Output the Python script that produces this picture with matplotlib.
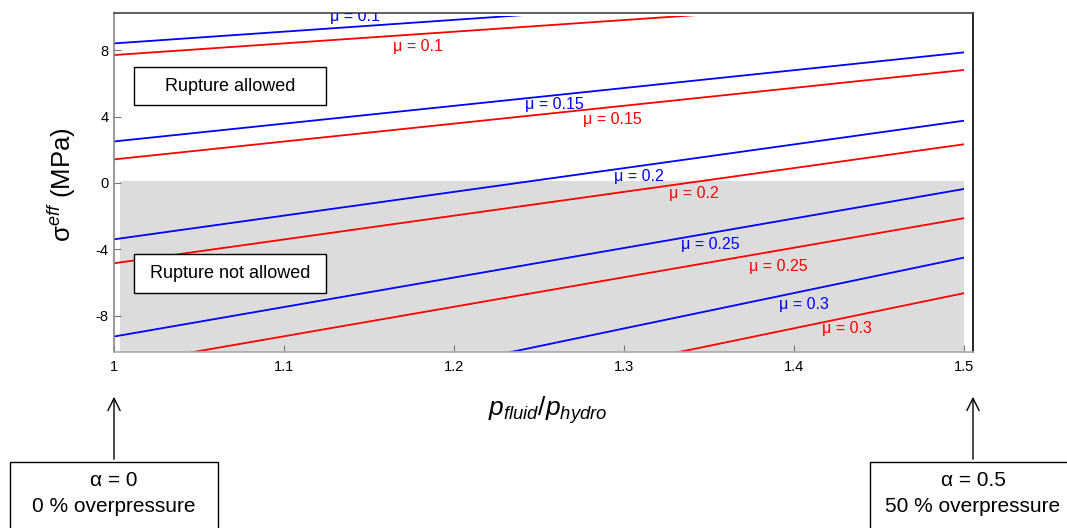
import matplotlib
matplotlib.use("Agg")
from matplotlib import pyplot as plt
from matplotlib.patches import Rectangle, FancyArrowPatch
import numpy as np

plt.rcParams['font.family'] = ['Liberation Sans', 'DejaVu Sans']
plt.rcParams['mathtext.fontset'] = 'custom'
plt.rcParams['mathtext.rm'] = 'Liberation Sans'
plt.rcParams['mathtext.it'] = 'Liberation Sans:italic'

# friction coefficients, one blue and one red line each
mu_values = [0.1, 0.15, 0.2, 0.25, 0.3]
p_ratio = [1.0, 1.5]
sigma_blue_start = [8.4, 2.5, -3.39, -9.24, -15.15]
sigma_blue_end = [11.94, 7.86, 3.75, -0.36, -4.49]
sigma_red_start = [7.7, 1.42, -4.83, -11.0, -17.2]
sigma_red_end = [11.21, 6.8, 2.33, -2.12, -6.63]

# where the mu labels sit
blue_label_x = [1.142, 1.259, 1.309, 1.351, 1.406]
blue_label_y = [10.0, 4.75, 0.42, -3.73, -7.34]
red_label_x = [1.179, 1.293, 1.341, 1.391, 1.431]
red_label_y = [8.24, 3.85, -0.62, -5.05, -8.78]

x_ticks = [1, 1.1, 1.2, 1.3, 1.4, 1.5]
x_tick_labels = ['1', '1.1', '1.2', '1.3', '1.4', '1.5']
y_ticks = [-8, -4, 0, 4, 8]
y_tick_labels = ['-8', '-4', '0', '4', '8']

W, H = 1067, 528
fig = plt.figure(figsize=(W / 100, H / 100), dpi=100)
ax = fig.add_axes([114 / W, 1 - 351.5 / H, (973 - 114) / W, (351.5 - 13) / H])
ax.set_xlim(1, 1.5053)
ax.set_ylim(-10.14, 10.23)

# shaded "not allowed" zone
ax.add_patch(Rectangle((1.0035, -10.14), 1.5 - 1.0035, 10.24, facecolor='#dcdcdc',
                       edgecolor='none', zorder=0))

clip = Rectangle((1.0, -10.14), 0.5, 20.2, transform=ax.transData)

for i, mu in enumerate(mu_values):
    lb, = ax.plot(p_ratio, [sigma_blue_start[i], sigma_blue_end[i]], color='#0000ff', lw=1.3)
    lr, = ax.plot(p_ratio, [sigma_red_start[i], sigma_red_end[i]], color='#ff0000', lw=1.3)
    lb.set_clip_path(clip)
    lr.set_clip_path(clip)
    ax.text(blue_label_x[i], blue_label_y[i], '\u03bc = %g' % mu, color='#0000ff',
            fontsize=11.5, ha='center', va='center', clip_on=True)
    ax.text(red_label_x[i], red_label_y[i], '\u03bc = %g' % mu, color='#ff0000',
            fontsize=11.5, ha='center', va='center', clip_on=True)

ax.set_xticks(x_ticks)
ax.set_xticklabels(x_tick_labels)
ax.set_yticks(y_ticks)
ax.set_yticklabels(y_tick_labels)
ax.tick_params(direction='in', length=5, color='#777777', labelsize=10.5)
ax.tick_params(axis='x', pad=6)
ax.tick_params(axis='y', pad=4)

ax.spines['left'].set_color('#888888')
ax.spines['bottom'].set_color('#aaaaaa')
ax.spines['top'].set_color('#444444')
ax.spines['right'].set_color('black')
for s in ax.spines.values():
    s.set_linewidth(1.2)

# boxes inside the plot
for (x0, x1, y0, y1), txt in [((1.0118, 1.1247, 4.69, 6.98), 'Rupture allowed'),
                              ((1.0118, 1.1247, -6.62, -4.27), 'Rupture not allowed')]:
    ax.add_patch(Rectangle((x0, y0), x1 - x0, y1 - y0, facecolor='white',
                           edgecolor='black', lw=1.0, zorder=3))
    ax.text((x0 + x1) / 2, (y0 + y1) / 2, txt, fontsize=13, ha='center', va='center', zorder=4)

# axis labels
fig.text(548 / W, 1 - 410 / H, r'$p_{fluid}/p_{hydro}$', fontsize=19, ha='center', va='center')
fig.text(62 / W, 1 - 185 / H, '\u03c3$^{eff}$ (MPa)', fontsize=18.5, rotation=90,
         ha='center', va='center')

# arrows and alpha boxes below
for xc, x0, x1, l1, l2 in [(114, 10, 218, '\u03b1 = 0', '0 % overpressure'),
                           (973, 870, 1076, '\u03b1 = 0.5', '50 % overpressure')]:
    fig.add_artist(FancyArrowPatch((xc / W, 1 - 462 / H), (xc / W, 1 - 394 / H),
                                   transform=fig.transFigure, arrowstyle='->',
                                   mutation_scale=22, lw=1.0, color='black'))
    fig.add_artist(Rectangle((x0 / W, 1 - 540 / H), (x1 - x0) / W, 78 / H,
                             transform=fig.transFigure, facecolor='white',
                             edgecolor='black', lw=1.0))
    fig.text(xc / W, 1 - 481 / H, l1, fontsize=15, ha='center', va='center')
    fig.text(xc / W, 1 - 507 / H, l2, fontsize=15, ha='center', va='center')

fig.savefig('out.png', dpi=100)
